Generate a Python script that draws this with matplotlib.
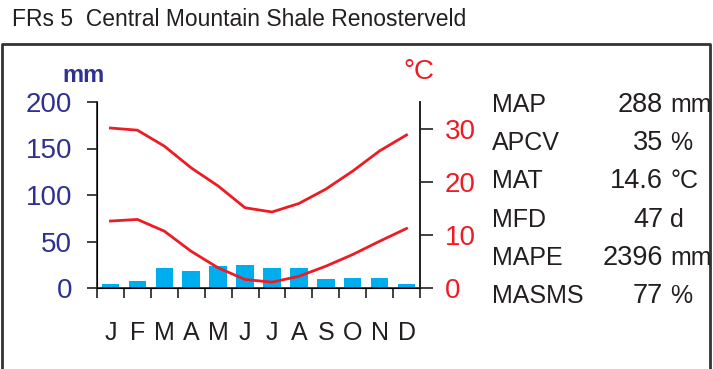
import matplotlib
matplotlib.use("Agg")
import matplotlib.pyplot as plt
from matplotlib.lines import Line2D
import numpy as np

plt.rcParams['font.family'] = ['Liberation Sans', 'DejaVu Sans']

months = ['J', 'F', 'M', 'A', 'M', 'J', 'J', 'A', 'S', 'O', 'N', 'D']
rain_mm = [4.3, 7.9, 21.5, 18.3, 23.3, 25.0, 21.5, 21.5, 9.7, 11.1, 11.1, 4.3]
tmax = [30.1, 29.7, 26.7, 22.6, 19.2, 15.1, 14.3, 15.9, 18.6, 22.0, 25.8, 28.8]
tmin = [12.6, 12.9, 10.7, 6.9, 3.8, 1.6, 1.1, 2.2, 4.1, 6.3, 8.8, 11.2]

stat_names = ['MAP', 'APCV', 'MAT', 'MFD', 'MAPE', 'MASMS']
stat_values = ['288', '35', '14.6', '47', '2396', '77']
stat_units = ['mm', '%', '°C', 'd', 'mm', '%']

title = 'FRs 5  Central Mountain Shale Renosterveld'

W, H = 713, 369
fig = plt.figure(figsize=(W / 100, H / 100), dpi=100)

blue_txt = '#2e3192'
red = '#ed1c24'
bar_col = '#00aeef'
dark = '#231f20'

ax = fig.add_axes([97 / W, 1 - 288 / H, (420 - 97) / W, (288 - 102) / H])
x = np.arange(len(months))
ax.bar(x, rain_mm, width=0.65, color=bar_col, zorder=2)
ax.set_xlim(-0.5, 11.5)
ax.set_ylim(0, 200)
ax.set_yticks([0, 50, 100, 150, 200])
ax.tick_params(axis='y', colors=dark, labelcolor=blue_txt, labelsize=20,
               length=7, width=1.2, pad=11)
ax.set_xticks(np.arange(-0.5, 12, 1))
ax.set_xticklabels([])
ax.set_xticks(x, minor=True)
ax.set_xticklabels(months, minor=True)
ax.tick_params(axis='x', which='major', length=7, width=1.2, colors=dark)
ax.tick_params(axis='x', which='minor', length=0, labelsize=18, pad=24,
               labelcolor=dark)
ax.spines['top'].set_visible(False)
for s in ['left', 'bottom', 'right']:
    ax.spines[s].set_linewidth(1.2)
    ax.spines[s].set_color(dark)

ax2 = ax.twinx()
ax2.plot(x, tmax, color=red, lw=2.0, zorder=3)
ax2.plot(x, tmin, color=red, lw=2.0, zorder=3)
ax2.set_ylim(0, 35)
ax2.set_yticks([0, 10, 20, 30])
ax2.tick_params(axis='y', colors=dark, labelcolor=red, labelsize=20,
                length=9, width=1.2, pad=9)
ax2.spines['top'].set_visible(False)
ax2.spines['right'].set_linewidth(1.2)
ax2.spines['right'].set_color(dark)

fig.text(84 / W, 1 - 75 / H, 'mm', color=blue_txt, fontsize=17,
         fontweight='bold', ha='center', va='center')
fig.text(419 / W, 1 - 72 / H, '°C', color=red, fontsize=20,
         ha='center', va='center')

fig.text(12 / W, 1 - 20 / H, title, fontsize=16.5, color=dark,
         ha='left', va='center')

baselines = [112, 150, 188, 227, 265, 303]
for name, val, unit, yy in zip(stat_names, stat_values, stat_units, baselines):
    fig.text(492 / W, 1 - yy / H, name, fontsize=18, color=dark,
             ha='left', va='baseline')
    fig.text(663 / W, 1 - yy / H, val, fontsize=19.5, color=dark,
             ha='right', va='baseline')
    fig.text(670 / W, 1 - yy / H, unit, fontsize=18, color=dark,
             ha='left', va='baseline')

# frame around the panel
fx = [2 / W, 2 / W, 710 / W, 710 / W]
fy = [0, 1 - 44 / H, 1 - 44 / H, 0]
fig.add_artist(Line2D(fx, fy, transform=fig.transFigure, color='#333333',
                      lw=2.0))

fig.savefig('out.png', dpi=100)
